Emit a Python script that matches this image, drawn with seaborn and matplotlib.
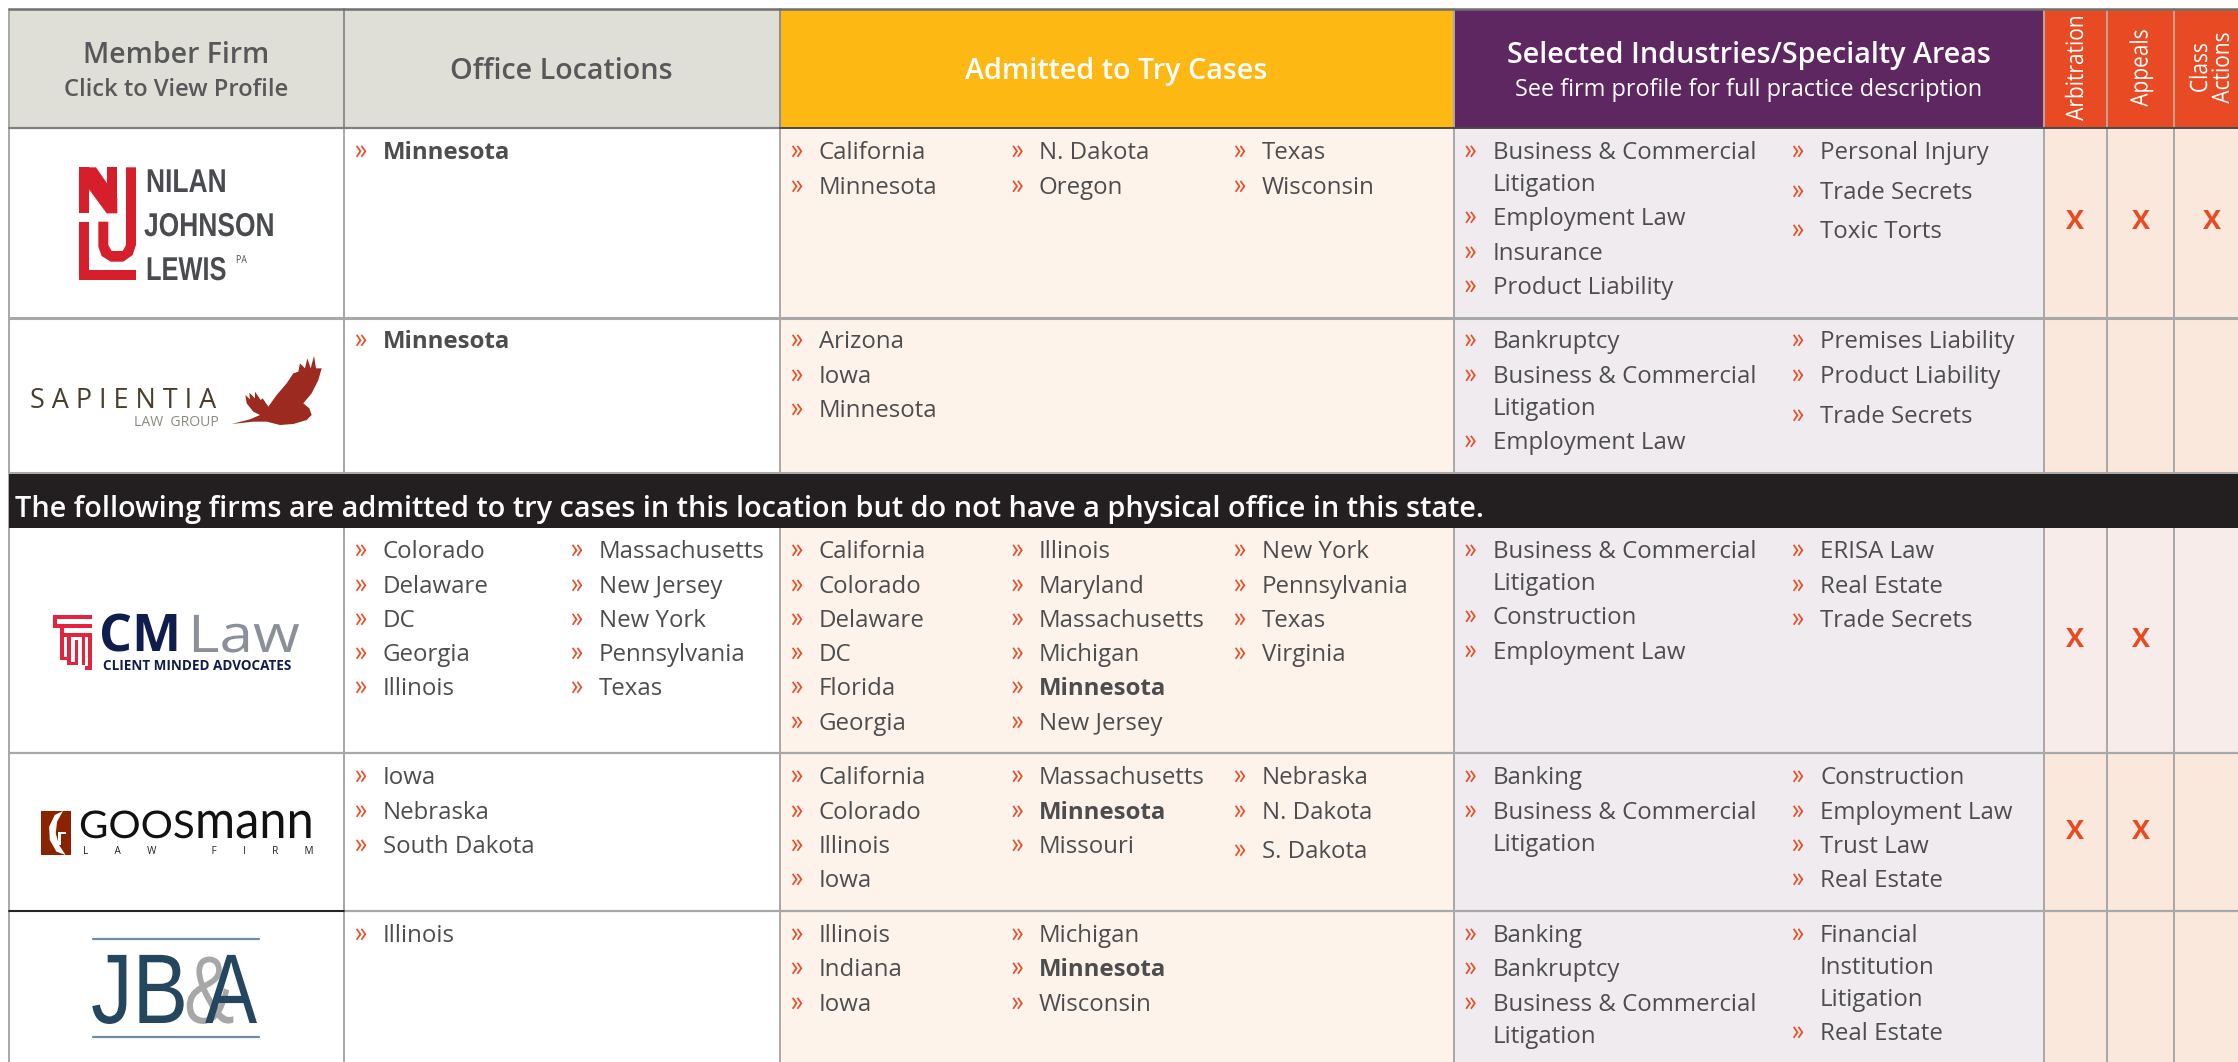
import matplotlib
matplotlib.use("Agg")
import matplotlib.pyplot as plt
from matplotlib.patches import Rectangle, Polygon
from matplotlib.patheffects import AbstractPathEffect
from matplotlib.transforms import Affine2D
import seaborn as sns

# ---------------- data ----------------
HEAD_FIRM = ["Member Firm", "Click to View Profile"]
HEAD_OFFICE = "Office Locations"
HEAD_ADMITTED = "Admitted to Try Cases"
HEAD_AREAS = ["Selected Industries/Specialty Areas", "See firm profile for full practice description"]
HEAD_FLAGS = ["Arbitration", "Appeals", "Class\nActions"]
BANNER = "The following firms are admitted to try cases in this location but do not have a physical office in this state."

office = [
    [["Minnesota"]],
    [["Minnesota"]],
    [["Colorado", "Delaware", "DC", "Georgia", "Illinois"],
     ["Massachusetts", "New Jersey", "New York", "Pennsylvania", "Texas"]],
    [["Iowa", "Nebraska", "South Dakota"]],
    [["Illinois"]],
]
admitted = [
    [["California", "Minnesota"], ["N. Dakota", "Oregon"], ["Texas", "Wisconsin"]],
    [["Arizona", "Iowa", "Minnesota"]],
    [["California", "Colorado", "Delaware", "DC", "Florida", "Georgia"],
     ["Illinois", "Maryland", "Massachusetts", "Michigan", "Minnesota", "New Jersey"],
     ["New York", "Pennsylvania", "Texas", "Virginia"]],
    [["California", "Colorado", "Illinois", "Iowa"],
     ["Massachusetts", "Minnesota", "Missouri"],
     ["Nebraska", "N. Dakota", "S. Dakota"]],
    [["Illinois", "Indiana", "Iowa"], ["Michigan", "Minnesota", "Wisconsin"]],
]
areas = [
    [["Business & Commercial\nLitigation", "Employment Law", "Insurance", "Product Liability"],
     ["Personal Injury", "Trade Secrets", "Toxic Torts"]],
    [["Bankruptcy", "Business & Commercial\nLitigation", "Employment Law"],
     ["Premises Liability", "Product Liability", "Trade Secrets"]],
    [["Business & Commercial\nLitigation", "Construction", "Employment Law"],
     ["ERISA Law", "Real Estate", "Trade Secrets"]],
    [["Banking", "Business & Commercial\nLitigation"],
     ["Construction", "Employment Law", "Trust Law", "Real Estate"]],
    [["Banking", "Bankruptcy", "Business & Commercial\nLitigation"],
     ["Financial\nInstitution\nLitigation", "Real Estate"]],
]
flags = [[1, 1, 1], [0, 0, 0], [1, 1, 0], [1, 1, 0], [0, 0, 0]]
BOLD_OFFICE_ROWS = [0, 1]
BOLD_ADMITTED_ROWS = [2, 3, 4]

# ---------------- layout (pixels of the 2238x1062 picture) ----------------
W, H = 2238, 1062
COLS = [9, 343.5, 780, 1454, 2043.5, 2107, 2173.5, 2238]
ROWS = [(128, 318), (318, 473), (528, 753), (753, 911), (911, 1062)]
FLAG_X = [2075.5, 2140.5, 2212]
FLAG_Y = [222, None, 640, 832, None]
OFFICE_X = [(355, 382.7), (571, 599)]
ADMIT_X = [(791, 818.8), (1011.5, 1039), (1234, 1262)]
AREA_X = [(1464.5, 1492.8), (1792, 1820)]
OFFICE_Y = [[[159]], [[348]], [[558, 593, 627, 661, 695]] * 2, [[784, 819, 853]], [[942]]]
ADMIT_Y = [
    [[159, 194]] * 3,
    [[348, 383, 417]],
    [[558, 593, 627, 661, 695, 730]] * 3,
    [[784, 819, 853, 887], [784, 819, 853], [784, 819, 858]],
    [[942, 976, 1011]] * 2,
]
AREA_Y = [
    [[159, 191, 225, 260, 294], [159, 199, 238]],
    [[348, 383, 415, 449], [348, 383, 423]],
    [[558, 590, 624, 659], [558, 593, 627]],
    [[784, 819, 851], [784, 819, 853, 887]],
    [[942, 976, 1011, 1043], [942, 974, 1006, 1040]],
]

GRAY_HEAD, YELLOW, PURPLE, ORANGE = "#DFDFD8", "#FDB813", "#5E2761", "#E84A23"
DARK, TINT, LILAC, PEACH, PINK = "#231F20", "#FDF3EB", "#EFEBEE", "#FAE8DC", "#F7ECE9"
LINE, INK = "#A8A8A8", "#4D4D4F"

sns.set_theme(style="white")
SANS, ARIAL = "Open Sans", "Liberation Sans"
plt.rcParams["font.family"] = [SANS, "DejaVu Sans"]
PX = 0.72  # pixels to points at dpi 100
BODY = 24.0

fig = plt.figure(figsize=(W / 100, H / 100), dpi=100, facecolor="white")
ax = fig.add_axes([0, 0, 1, 1])
ax.set_xlim(0, W)
ax.set_ylim(H, 0)
ax.axis("off")
sns.despine(ax=ax, left=True, bottom=True)


class Stretch(AbstractPathEffect):
    """Squeezes or widens a real text object around its anchor."""

    def __init__(self, anchor, sx=1.0, sy=1.0):
        super().__init__()
        self.anchor, self.sx, self.sy = anchor, sx, sy

    def draw_path(self, renderer, gc, tpath, affine, rgbFace=None):
        x0, y0 = ax.transData.transform(self.anchor)
        t = Affine2D().translate(-x0, -y0).scale(self.sx, self.sy).translate(x0, y0)
        renderer.draw_path(gc, tpath, affine + t, rgbFace)


def box(x0, y0, x1, y1, color, z=1):
    ax.add_patch(Rectangle((x0, y0), x1 - x0, y1 - y0, fc=color, ec="none", zorder=z))


def label(x, y, s, px=BODY, weight="normal", color=INK, ha="left", family=None, sx=1.0, z=5):
    t = ax.text(x, y, s, fontsize=px * PX, fontweight=weight, color=color, ha=ha, va="baseline",
                family=family or SANS, zorder=z)
    if sx != 1.0:
        t.set_path_effects([Stretch((x, y), sx=sx)])
    return t


def listing(cols, xs, ys, bold=False):
    for items, (xb, xt), col_y in zip(cols, xs, ys):
        lines = iter(col_y)
        for item in items:
            for j, part in enumerate(item.split("\n")):
                y = next(lines)
                if j == 0:
                    label(xb, y, "\u00bb", px=29, color="#E8502A", sx=0.85)
                w = "bold" if bold and part == "Minnesota" else "normal"
                label(xt, y, part, weight=w)


# header fills
for i, c in enumerate([GRAY_HEAD, GRAY_HEAD, YELLOW, PURPLE, ORANGE, ORANGE, ORANGE]):
    box(COLS[i], 9, COLS[i + 1], 128, c)
# body fills
for r, (y0, y1) in enumerate(ROWS):
    box(COLS[2], y0, COLS[3], y1, TINT)
    box(COLS[3], y0, COLS[4], y1, LILAC)
    box(COLS[4], y0, COLS[7], y1, PINK if r == 2 else PEACH)
# grid
for x in COLS[:-1]:
    ax.plot([x, x], [9, H], color=LINE, lw=1.4, zorder=2)
for x in COLS[1:3]:
    ax.plot([x, x], [9, 128], color="#8E8E8E", lw=1.4, zorder=3)
for x in COLS[4:7]:
    ax.plot([x, x], [9, 128], color="#C9A090", lw=1.2, zorder=3)
for y, lw in [(318, 2.2), (473, 2.2), (753, 1.6), (911, 1.6)]:
    ax.plot([9, W], [y, y], color=LINE, lw=lw, zorder=2)
ax.plot([COLS[0], COLS[1]], [911, 911], color="#222222", lw=1.4, zorder=3)
ax.plot([9, W], [9, 9], color="#707070", lw=1.8, zorder=3)
ax.plot([9, COLS[2]], [128, 128], color="#808080", lw=1.6, zorder=3)
ax.plot([COLS[2], W], [128, 128], color="#4A4A4A", lw=1.4, zorder=3)
box(9, 474, W, 528, DARK, z=4)

# header text
label(176, 63, HEAD_FIRM[0], px=28.5, weight="semibold", color="#58585A", ha="center")
label(176, 96, HEAD_FIRM[1], px=23.7, weight="semibold", color="#58585A", ha="center")
label(561, 79, HEAD_OFFICE, px=28.7, weight="semibold", color="#58585A", ha="center")
label(1116, 79, HEAD_ADMITTED, px=28.8, weight="semibold", color="white", ha="center")
label(1749, 63, HEAD_AREAS[0], px=28.8, weight="semibold", color="white", ha="center")
label(1749, 96, HEAD_AREAS[1], px=23.5, color="white", ha="center")
for x, s in zip([2077, 2141.5, 2212], HEAD_FLAGS):
    t = ax.text(x, 68, s, rotation=90, fontsize=24 * PX, color="white", ha="center", va="center",
                multialignment="center", linespacing=0.88, family=SANS, zorder=5)
    t.set_path_effects([Stretch((x, 68), sy=0.87)])
label(15, 517, BANNER, px=28.9, weight="semibold", color="white", z=6)

# body text
for r in range(5):
    listing(office[r], OFFICE_X, OFFICE_Y[r], bold=r in BOLD_OFFICE_ROWS)
    listing(admitted[r], ADMIT_X, ADMIT_Y[r], bold=r in BOLD_ADMITTED_ROWS)
    listing(areas[r], AREA_X, AREA_Y[r])
    for x, f in zip(FLAG_X, flags[r]):
        if f:
            ax.text(x, FLAG_Y[r], "X", fontsize=27 * PX, fontweight="bold", color=ORANGE,
                    ha="center", va="center", family=SANS, zorder=5)


# ---------------- logos ----------------
def poly(pts, origin, color, sx=3, sy=3, z=4):
    ax.add_patch(Polygon([(origin[0] + u / sx, origin[1] + v / sy) for u, v in pts],
                         closed=True, fc=color, ec="none", zorder=z))


# Nilan Johnson Lewis
o, red = (60, 150), "#D71F2B"
poly([(57, 52), (87, 52), (87, 190), (57, 190)], o, red)
poly([(57, 52), (108, 52), (172, 145), (172, 190), (140, 190), (87, 118), (57, 118)], o, red)
poly([(140, 52), (172, 52), (172, 190), (140, 190)], o, red)
poly([(198, 52), (228, 52), (228, 285), (218, 315), (190, 335), (152, 335), (125, 318), (115, 290),
      (115, 215), (145, 215), (145, 285), (155, 303), (188, 303), (198, 285)], o, red)
poly([(57, 215), (87, 215), (87, 360), (228, 360), (228, 390), (57, 390)], o, red)
logo_ink = "#4A4B50"
label(146, 192, "NILAN", px=33, weight="bold", color=logo_ink, family=ARIAL, sx=0.8)
label(144, 236, "JOHNSON", px=33, weight="bold", color=logo_ink, family=ARIAL, sx=0.8)
label(146, 280, "LEWIS", px=33, weight="bold", color=logo_ink, family=ARIAL, sx=0.77)
label(236, 263, "PA", px=11, color=logo_ink, sx=0.8)

# Sapientia
o = (20, 340)
label(30, 408, "S A P I E N T I A", px=27, color="#4A3F2E")
label(134, 426, "LAW  GROUP", px=14, color="#8A8A80")
poly([(635, 252), (690, 238), (720, 225), (700, 215), (680, 190), (676, 165), (690, 178), (688, 158),
      (705, 175), (705, 155), (722, 180), (728, 175), (745, 200), (770, 165), (800, 130), (820, 100),
      (835, 95), (840, 70), (855, 85), (862, 55), (872, 85), (882, 48), (888, 85), (905, 85),
      (895, 120), (875, 160), (850, 190), (868, 205), (875, 225), (860, 240), (820, 252), (780, 255),
      (740, 245), (700, 245)], o, "#9C2A1F")

# CM Law
o, crimson, navy = (40, 600), "#E4243F", "#0F1C4D"
for pts in [(40, 45, 155, 57), (40, 45, 52, 85), (40, 73, 155, 85), (60, 85, 72, 180), (60, 100, 155, 110),
            (82, 100, 92, 195), (82, 185, 115, 195), (105, 120, 115, 195), (125, 100, 135, 195),
            (145, 100, 155, 210), (135, 198, 155, 210), (60, 170, 82, 180)]:
    u0, v0, u1, v1 = pts
    poly([(u0, v0), (u1, v0), (u1, v1), (u0, v1)], o, crimson)
label(99, 652, "CM", px=52, weight="bold", color=navy)
label(188, 652, "Law", px=52, color="#8B8F9A", sx=1.16)
label(103, 670, "CLIENT MINDED ADVOCATES", px=13.5, weight="bold", color=navy)

# Goosmann
o = (30, 790)
box(41, 811, 71, 855, "#8B2200", z=4)
poly([(100, 63), (75, 75), (58, 110), (60, 150), (80, 185), (108, 195), (88, 165), (78, 130), (82, 95)],
     o, "white", sx=3.03, z=5)
poly([(85, 125), (110, 125), (110, 132), (95, 132), (95, 165), (85, 165)], o, "white", sx=3.03, z=5)
label(79, 838, "GOOS", px=38, color="#111111", family="Lato", sx=1.06)
label(195, 838, "mann", px=53, color="#111111", family="Lato", sx=0.92)
label(83, 854, "L          A          W                     F          I          R          M", px=10, color="#222222")

# JB&A
ink = "#24475F"
ax.plot([93, 259], [939, 939], color="#6F8CA6", lw=1.6, zorder=4)
ax.plot([93, 259], [1037, 1037], color="#6F8CA6", lw=1.6, zorder=4)
label(184, 1023, "&", px=96, color="#A7A7A7", family=ARIAL, sx=0.79)
label(91, 1023, "JB", px=99, color=ink, family=ARIAL, sx=0.84)
label(205, 1023, "A", px=99, color=ink, family=ARIAL, sx=0.79)

fig.savefig("out.png", dpi=100, facecolor="white")
